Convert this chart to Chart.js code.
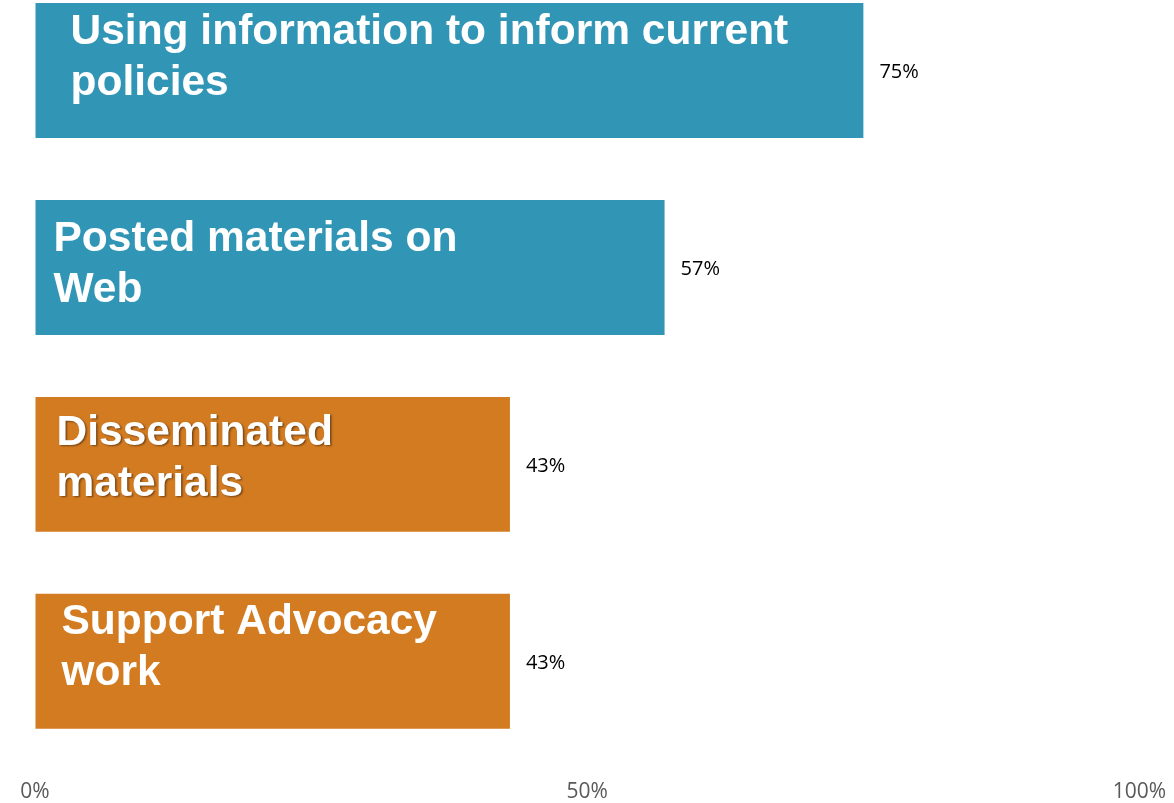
<!DOCTYPE html>
<html>
<head>
<meta charset="utf-8">
<script src="https://cdn.jsdelivr.net/npm/chart.js@4/dist/chart.umd.min.js"></script>
<style>
  html, body { margin: 0; padding: 0; background: #fff; overflow: hidden; width: 1174px; height: 803px; }
  #wrap { position: absolute; left: 0; top: -28px; width: 1174px; height: 833px; }
</style>
</head>
<body>
<div id="wrap"><canvas id="c"></canvas></div>
<script>
// ---- data ----
const categories = [
  ['Using information to inform current', 'policies'],
  ['Posted materials on', 'Web'],
  ['Disseminated', 'materials'],
  ['Support Advocacy', 'work']
];
const values = [75, 57, 43, 43];
const barColors = ['#3195B5', '#3195B5', '#D37B21', '#D37B21'];
const tickValues = [0, 50, 100];

// ---- label styling (layout, not data) ----
const labelInset = [35, 18, 21, 26];
const labelBaseline = [41, 51, 48, 40];
const labelShadow = [false, false, true, false];

const barLabelPlugin = {
  id: 'barLabels',
  afterDatasetsDraw(chart) {
    const ctx = chart.ctx;
    const meta = chart.getDatasetMeta(0);
    const labels = chart.data.labels;
    meta.data.forEach((bar, i) => {
      const top = bar.y - bar.height / 2;
      ctx.save();
      ctx.font = 'bold 42.5px "Liberation Sans", Arial, sans-serif';
      ctx.fillStyle = '#ffffff';
      ctx.textAlign = 'left';
      ctx.textBaseline = 'alphabetic';
      if (labelShadow[i]) {
        ctx.shadowColor = 'rgba(0,0,0,0.45)';
        ctx.shadowOffsetX = 1.5;
        ctx.shadowOffsetY = 1.5;
        ctx.shadowBlur = 2;
      }
      labels[i].forEach((line, j) => {
        ctx.fillText(line, bar.base + labelInset[i], top + labelBaseline[i] + j * 51);
      });
      ctx.restore();

      ctx.save();
      ctx.font = '20px "Open Sans", sans-serif';
      ctx.fillStyle = '#000000';
      ctx.textAlign = 'left';
      ctx.textBaseline = 'middle';
      ctx.fillText(chart.data.datasets[0].data[i] + '%', bar.x + 16, bar.y + 1.5);
      ctx.restore();
    });
  }
};

new Chart(document.getElementById('c'), {
  type: 'bar',
  data: {
    labels: categories,
    datasets: [{
      data: values,
      backgroundColor: barColors,
      borderWidth: 0,
      categoryPercentage: 1,
      barPercentage: 0.685
    }]
  },
  options: {
    indexAxis: 'y',
    responsive: true,
    maintainAspectRatio: false,
    animation: false,
    layout: { padding: { left: 35, right: 34.5, top: 0, bottom: 0 } },
    plugins: { legend: { display: false }, tooltip: { enabled: false } },
    scales: {
      x: {
        min: 0,
        max: 100,
        afterBuildTicks(scale) { scale.ticks = tickValues.map(v => ({ value: v })); },
        grid: {
          display: true,
          drawOnChartArea: false,
          drawTicks: true,
          tickLength: 20,
          color: 'rgba(0,0,0,0)'
        },
        border: { display: false },
        ticks: {
          callback: v => v + '%',
          color: '#595959',
          font: { family: '"Open Sans", sans-serif', size: 21 },
          padding: 0,
          maxRotation: 0
        }
      },
      y: {
        display: false
      }
    }
  },
  plugins: [barLabelPlugin]
});
</script>
</body>
</html>
